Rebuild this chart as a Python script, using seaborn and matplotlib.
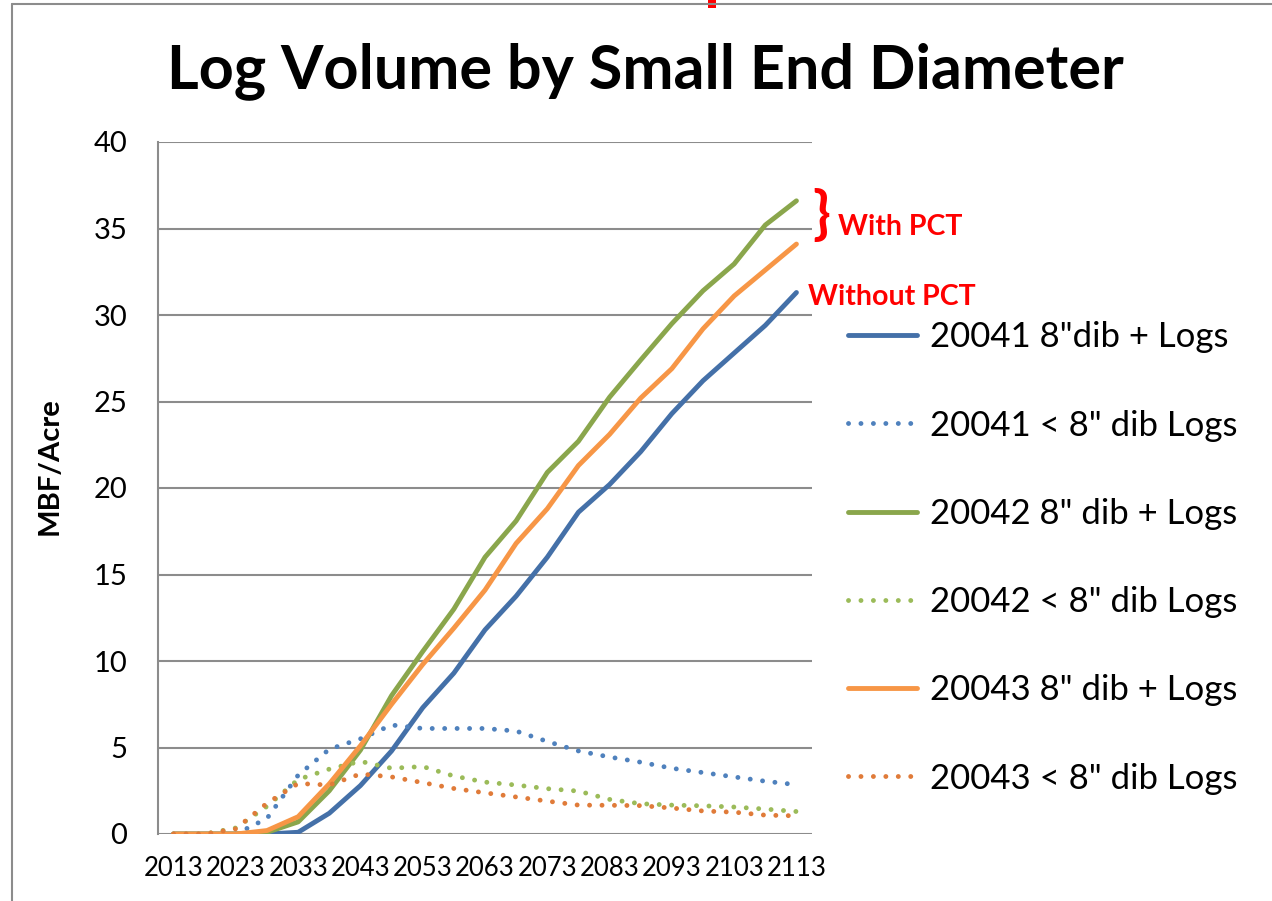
import numpy as np
import pandas as pd
import matplotlib
matplotlib.use('Agg')
import matplotlib.pyplot as plt
import seaborn as sns
from matplotlib.lines import Line2D
from matplotlib.patches import Rectangle

## data (every 5 years)
years = list(range(2013, 2114, 5))
tick_years = years[::2]

s20041_big = [0, 0, 0, 0, 0.1, 1.2, 2.8, 4.8, 7.3, 9.3, 11.8, 13.75, 16.0, 18.6, 20.2, 22.1, 24.3, 26.2, 27.8, 29.4, 31.3]
s20041_small = [0, 0, 0, 0.9, 3.4, 4.9, 5.5, 6.3, 6.1, 6.1, 6.1, 5.95, 5.35, 4.8, 4.45, 4.15, 3.8, 3.55, 3.3, 3.05, 2.85]
s20042_big = [0, 0, 0, 0.1, 0.7, 2.5, 4.85, 8.0, 10.55, 13.0, 16.0, 18.1, 20.9, 22.7, 25.25, 27.4, 29.5, 31.4, 32.95, 35.2, 36.6]
s20042_small = [0, 0, 0.35, 1.6, 3.15, 3.75, 4.2, 3.8, 3.9, 3.35, 3.0, 2.83, 2.62, 2.48, 2.0, 1.75, 1.67, 1.63, 1.56, 1.44, 1.3]
s20043_big = [0, 0, 0, 0.2, 1.0, 2.9, 5.1, 7.5, 9.8, 11.9, 14.1, 16.8, 18.8, 21.3, 23.1, 25.2, 26.9, 29.2, 31.1, 32.6, 34.1]
s20043_small = [0, 0, 0.3, 1.78, 2.92, 2.83, 3.47, 3.3, 2.97, 2.63, 2.38, 2.14, 1.9, 1.67, 1.66, 1.64, 1.5, 1.33, 1.26, 1.09, 1.05]

labels = ['20041 8"dib + Logs', '20041 < 8" dib Logs',
          '20042 8" dib + Logs', '20042 < 8" dib Logs',
          '20043 8" dib + Logs', '20043 < 8" dib Logs']
series = [s20041_big, s20041_small, s20042_big, s20042_small, s20043_big, s20043_small]
colors = ['#4470A8', '#4F81BD', '#8AA64C', '#9BBB59', '#F79646', '#E07B39']
dotted = [False, True, False, True, False, True]

## style
sns.set_style('white')
plt.rcParams['font.family'] = ['Lato', 'DejaVu Sans']
plt.rcParams['text.color'] = 'black'
plt.rcParams['xtick.color'] = 'black'
plt.rcParams['ytick.color'] = 'black'

W, H = 1272, 901
fig = plt.figure(figsize=(W / 100, H / 100), dpi=100)
ax = fig.add_axes([158 / W, 1 - 834 / H, (812 - 158) / W, (834 - 142) / H])

dot_style = (0, (0.01, 2.55))
handles = []
for lab, vals, col, dot in zip(labels, series, colors, dotted):
    df = pd.DataFrame({'idx': np.arange(len(years)), 'val': vals})
    ls = dot_style if dot else '-'
    sns.lineplot(data=df, x='idx', y='val', ax=ax, color=col, linewidth=3.5,
                 linestyle=ls, dash_capstyle='round', solid_capstyle='round',
                 label=lab, legend=False)
    handles.append(Line2D([], [], color=col, linewidth=3.5, linestyle=ls,
                          dash_capstyle='round', solid_capstyle='round'))

## axes
ax.set_xlim(-0.5, len(years) - 0.5)
ax.set_ylim(0, 40)
ax.set_yticks(range(0, 41, 5))
ax.set_xticks(range(0, len(years), 2))
ax.set_xticklabels([str(y) for y in tick_years])
ax.tick_params(axis='y', length=0, pad=22, labelsize=21, labelcolor='black')
ax.tick_params(axis='x', length=0, pad=16, labelsize=18.5, labelcolor='black')
ax.set_xlabel('')
ax.set_ylabel('')
ax.yaxis.grid(True, color='#8C8C8C', linewidth=1.5)
ax.set_axisbelow(True)
for side in ['top', 'right', 'bottom']:
    ax.spines[side].set_visible(False)
ax.spines['left'].set_color('#8C8C8C')
ax.spines['left'].set_linewidth(1.5)

## legend
ax.legend(handles, labels, loc='center left', bbox_to_anchor=(848 / W, 1 - 558 / H),
          bbox_transform=fig.transFigure, frameon=False, fontsize=25,
          handlelength=2.0, handletextpad=0.35, labelspacing=1.62,
          borderpad=0, borderaxespad=0, labelcolor='black')

## texts
fig.text(645 / W, 1 - 88 / H, 'Log Volume by Small End Diameter', ha='center', va='baseline',
         fontsize=44, fontweight='bold', color='black')
fig.text(50 / W, 1 - 466 / H, 'MBF/Acre', rotation=90, ha='center', va='center',
         fontsize=21, fontweight='bold', color='black')
fig.text(838 / W, 1 - 227 / H, 'With PCT', ha='left', va='center', color='red',
         fontsize=20.5, fontweight='bold')
fig.text(808 / W, 1 - 297 / H, 'Without PCT', ha='left', va='center', color='red',
         fontsize=20.5, fontweight='bold')
fig.text(821 / W, 1 - 216 / H, '}', ha='center', va='center', color='red',
         fontsize=42, fontweight='bold')

## chart frame and the red mark at the top
fig.add_artist(Line2D([12 / W, 12 / W], [0, 1 - 4 / H], color='#8C8C8C', linewidth=1.5))
fig.add_artist(Line2D([12 / W, 1], [1 - 4 / H, 1 - 4 / H], color='#8C8C8C', linewidth=1.5))
fig.add_artist(Rectangle((708 / W, 1 - 8 / H), 8 / W, 8 / H, color='red', linewidth=0))

fig.savefig('out.png', dpi=100)
